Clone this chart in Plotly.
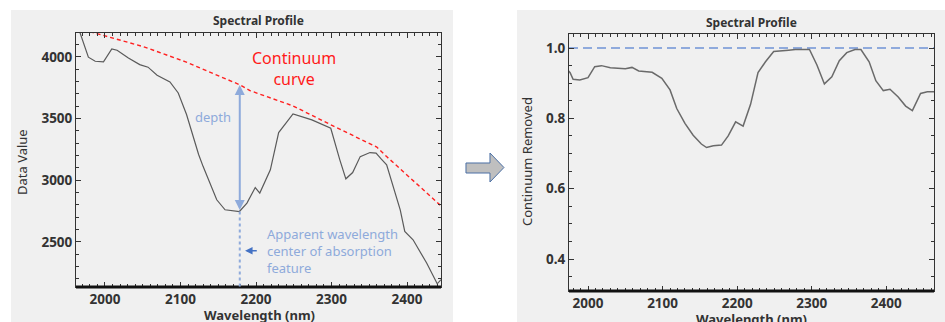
import plotly.graph_objects as go

W, H = 945, 322

# ---------------- data ----------------
# Left panel: spectral profile (Data Value)
left_wl = [1965, 1978, 1987, 1998, 2009, 2016, 2031, 2046, 2057, 2069, 2086, 2097, 2108, 2117,
           2124, 2130, 2148, 2159, 2178, 2188, 2199, 2205, 2219, 2230, 2249, 2274, 2299, 2311,
           2319, 2328, 2338, 2351, 2359, 2366, 2373, 2391, 2397, 2408, 2426, 2440, 2445]
left_val = [4230, 3998, 3965, 3960, 4065, 4054, 3992, 3938, 3917, 3852, 3797, 3708, 3533, 3344,
            3209, 3111, 2842, 2761, 2747, 2815, 2941, 2896, 3085, 3387, 3538, 3490, 3422, 3166,
            3012, 3063, 3192, 3225, 3220, 3171, 3125, 2761, 2585, 2518, 2329, 2161, 2194]

# Left panel: continuum curve
cont_wl = [1980, 2051, 2106, 2179, 2192, 2249, 2302, 2360, 2373, 2445]
cont_val = [4205, 4083, 3962, 3773, 3727, 3603, 3441, 3269, 3192, 2793]

# Right panel: continuum removed
right_wl = [1974, 1976, 1980, 1989, 2000, 2009, 2018, 2030, 2050, 2059, 2068, 2086, 2099, 2110,
            2119, 2130, 2141, 2152, 2159, 2168, 2179, 2188, 2198, 2208, 2218, 2228, 2238, 2249,
            2269, 2278, 2297, 2307, 2317, 2327, 2337, 2347, 2358, 2366, 2377, 2386, 2396, 2405,
            2416, 2426, 2435, 2446, 2455, 2466]
right_val = [0.935, 0.930, 0.911, 0.909, 0.916, 0.947, 0.950, 0.944, 0.941, 0.945, 0.935, 0.931,
             0.914, 0.881, 0.828, 0.786, 0.752, 0.727, 0.717, 0.722, 0.724, 0.750, 0.790, 0.778,
             0.840, 0.930, 0.961, 0.990, 0.994, 0.996, 0.996, 0.952, 0.898, 0.918, 0.964, 0.987,
             0.996, 0.996, 0.961, 0.907, 0.879, 0.883, 0.861, 0.835, 0.822, 0.871, 0.876, 0.876]

hull_level = [1.0, 1.0]
hull_wl = [1974.5, 2464]

x_ticks = [2000, 2100, 2200, 2300, 2400]
left_y_ticks = [2500, 3000, 3500, 4000]
right_y_ticks = [0.4, 0.6, 0.8, 1.0]
right_y_labels = ["0.4", "0.6", "0.8", "1.0"]

feature_wl = 2178.5
feature_top = 3773
feature_bottom = 2747

# ---------------- layout helpers ----------------
def px_x(p):
    return p / W

def px_y(p):
    return 1 - p / H

BG = "#f0f0f0"
TXT = "#333333"
FONT = "Noto Sans"
BLUE_L = "#8eaadb"

fig = go.Figure()

fig.add_trace(go.Scatter(x=left_wl, y=left_val, mode="lines",
                         line=dict(color="#5a5a5a", width=1.2), xaxis="x", yaxis="y",
                         showlegend=False, hoverinfo="skip"))
fig.add_trace(go.Scatter(x=cont_wl, y=cont_val, mode="lines",
                         line=dict(color="#ff2020", width=1.4, dash="4px,3px"), xaxis="x", yaxis="y",
                         showlegend=False, hoverinfo="skip"))
fig.add_trace(go.Scatter(x=hull_wl, y=hull_level, mode="lines",
                         line=dict(color="#8faadc", width=2, dash="9px,5px"), xaxis="x2", yaxis="y2",
                         showlegend=False, hoverinfo="skip"))
fig.add_trace(go.Scatter(x=right_wl, y=right_val, mode="lines",
                         line=dict(color="#6a6a6a", width=1.5), xaxis="x2", yaxis="y2",
                         showlegend=False, hoverinfo="skip"))

axis_common = dict(showgrid=False, zeroline=False, showline=True, linecolor="#333333", linewidth=1,
                   mirror="ticks", ticks="inside", ticklen=5, tickwidth=1, tickcolor="#333333",
                   tickfont=dict(family=FONT, size=13.5, color=TXT, weight="bold"))

fig.update_layout(
    width=W, height=H, margin=dict(l=0, r=0, t=0, b=0),
    paper_bgcolor="white", plot_bgcolor=BG,
    xaxis=dict(domain=[px_x(76), px_x(441)], range=[1961.6, 2445], anchor="y",
               tickvals=x_ticks, minor=dict(ticks="inside", dtick=10, ticklen=3, tickcolor="#333333"),
               **axis_common),
    yaxis=dict(domain=[px_y(287), px_y(33)], range=[2135, 4194], anchor="x",
               tickvals=left_y_ticks, minor=dict(ticks="inside", dtick=100, ticklen=3, tickcolor="#333333"),
               **axis_common),
    xaxis2=dict(domain=[px_x(569), px_x(934)], range=[1974.5, 2464], anchor="y2",
                tickvals=x_ticks, minor=dict(ticks="inside", dtick=10, ticklen=3, tickcolor="#333333"),
                **axis_common),
    yaxis2=dict(domain=[px_y(291), px_y(34)], range=[0.309, 1.04], anchor="x2",
                tickvals=right_y_ticks, ticktext=right_y_labels,
                minor=dict(ticks="inside", dtick=0.05, ticklen=3, tickcolor="#333333"),
                **axis_common),
)

shapes = [
    # panel backgrounds
    dict(type="rect", xref="paper", yref="paper", x0=px_x(11), x1=px_x(453), y0=0, y1=px_y(10),
         fillcolor=BG, line=dict(width=0), layer="below"),
    dict(type="rect", xref="paper", yref="paper", x0=px_x(517), x1=1, y0=0, y1=px_y(10),
         fillcolor=BG, line=dict(width=0), layer="below"),
    # thick bottom axes
    dict(type="line", xref="x domain", yref="y domain", x0=0, x1=1, y0=0, y1=0,
         line=dict(color="#111111", width=3)),
    dict(type="line", xref="x2 domain", yref="y2 domain", x0=0, x1=1, y0=0, y1=0,
         line=dict(color="#111111", width=3)),
    # dotted line from feature minimum to axis
    dict(type="line", xref="x", yref="y", x0=feature_wl, x1=feature_wl, y0=feature_bottom, y1=2135,
         line=dict(color=BLUE_L, width=2, dash="dot")),
    # transition arrow between panels
    dict(type="path", xref="paper", yref="paper",
         path="M {:.4f},{:.4f} L {:.4f},{:.4f} L {:.4f},{:.4f} L {:.4f},{:.4f} L {:.4f},{:.4f} L {:.4f},{:.4f} L {:.4f},{:.4f} Z".format(
             px_x(466), px_y(163), px_x(490), px_y(163), px_x(490), px_y(153), px_x(504), px_y(167.5),
             px_x(490), px_y(182), px_x(490), px_y(173), px_x(466), px_y(173)),
         fillcolor="#bfbfbf", line=dict(color="#4a6fa5", width=1)),
]
fig.update_layout(shapes=shapes)

def label(text, x, y, angle=0, bold=False, size=12):
    return dict(text=text, xref="paper", yref="paper", x=px_x(x), y=px_y(y), textangle=angle,
                xanchor="center", yanchor="middle", showarrow=False,
                font=dict(family=FONT, size=size, color=TXT, weight="bold" if bold else "normal"))

annotations = [
    label("Spectral Profile", 258, 20, bold=True),
    label("Spectral Profile", 751, 22, bold=True),
    label("Wavelength (nm)", 259, 314.5, bold=True, size=13),
    label("Wavelength (nm)", 751, 318.5, bold=True, size=13),
    label("Data Value", 22, 162, angle=-90, size=13),
    label("Continuum Removed", 527, 162, angle=-90, size=13),
    # depth arrow (double headed)
    dict(x=feature_wl, y=feature_top, ax=feature_wl, ay=feature_bottom, xref="x", yref="y",
         axref="x", ayref="y", text="", showarrow=True, arrowside="end+start",
         arrowhead=2, startarrowhead=2, arrowwidth=2, arrowcolor=BLUE_L,
         arrowsize=1, startarrowsize=1),
    dict(text="depth", x=2143, y=3514, xref="x", yref="y", showarrow=False,
         xanchor="center", yanchor="middle",
         font=dict(family=FONT, size=13, color=BLUE_L)),
    dict(text="Continuum<br>curve", x=2250, y=3907, xref="x", yref="y", showarrow=False,
         xanchor="center", yanchor="middle",
         font=dict(family=FONT, size=16, color="#ff1a1a")),
    # small left-pointing arrow
    dict(x=2185.5, y=2428, ax=2203, ay=2428, xref="x", yref="y", axref="x", ayref="y",
         text="", showarrow=True, arrowhead=2, arrowwidth=1.5, arrowcolor="#4472c4", arrowsize=1),
    dict(text="Apparent wavelength<br>center of absorption<br>feature", x=2212, y=2424,
         xref="x", yref="y", xanchor="left", yanchor="middle", align="left", showarrow=False,
         font=dict(family=FONT, size=13, color=BLUE_L)),
]
fig.update_layout(annotations=annotations)

fig.write_html("out.html", config={"displayModeBar": False},
               post_script="document.body.style.margin='0';document.body.style.padding='0';")
